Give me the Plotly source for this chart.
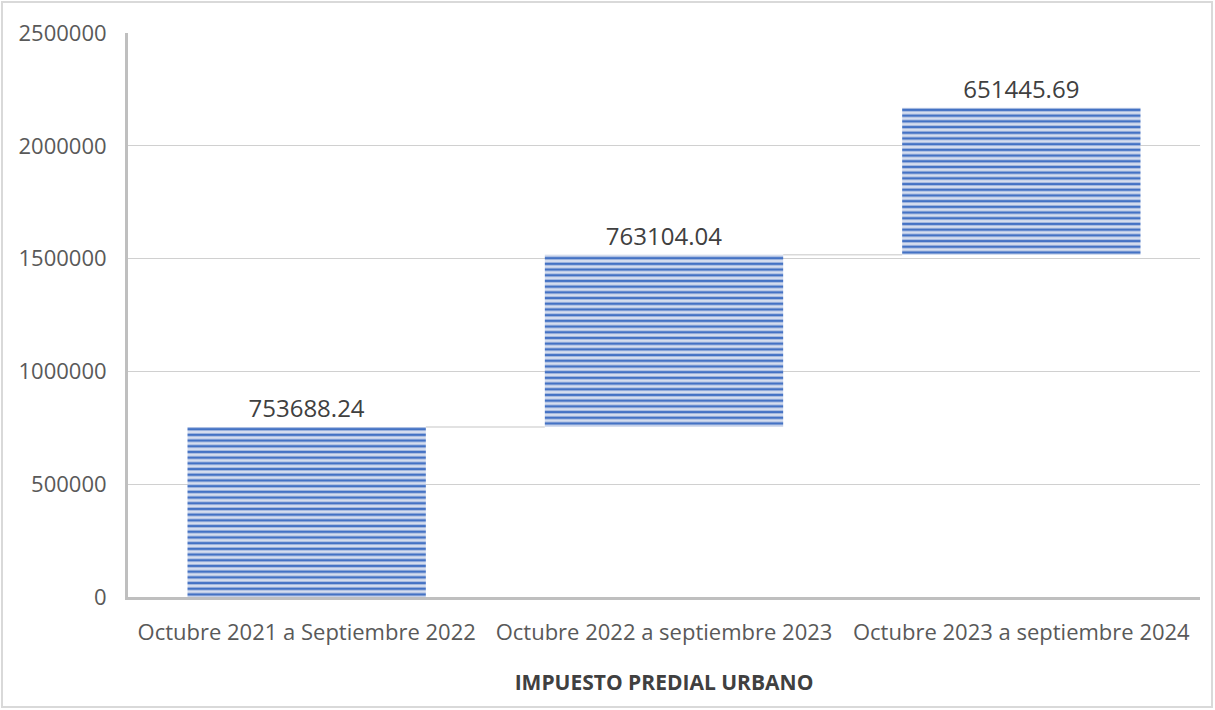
import numpy as np
import plotly.graph_objects as go

# Datos del grafico de cascada
periodos = ["Octubre 2021 a Septiembre 2022",
            "Octubre 2022 a septiembre 2023",
            "Octubre 2023 a septiembre 2024"]
montos = [753688.24, 763104.04, 651445.69]
y_ticks = [0, 500000, 1000000, 1500000, 2000000, 2500000]

acum = np.cumsum(montos)
bases = np.concatenate([[0], acum[:-1]])
pos = np.arange(len(periodos))
ancho = 0.667

fig = go.Figure()

# conectores entre barras
for i in range(len(montos) - 1):
    fig.add_trace(go.Scatter(
        x=[pos[i] + ancho / 2, pos[i + 1] - ancho / 2],
        y=[acum[i], acum[i]],
        mode="lines", line=dict(color="#d9d9d9", width=1.5),
        hoverinfo="skip", showlegend=False))

fig.add_trace(go.Bar(
    x=pos, y=montos, base=bases, width=ancho,
    marker=dict(color="#d5ddee",
                line=dict(width=0),
                pattern=dict(shape="-", fgcolor="#4472c4", bgcolor="#d5ddee",
                             size=5.7, solidity=0.45, fillmode="replace")),
    text=[f"{v:.2f}" for v in montos], textposition="outside",
    textfont=dict(size=24, color="#404040"), cliponaxis=False,
    showlegend=False))

fig.update_layout(
    width=1215, height=710,
    margin=dict(l=128, r=15, t=33, b=113, autoexpand=False),
    paper_bgcolor="white", plot_bgcolor="white",
    font=dict(family="Open Sans", size=22, color="#595959"),
    xaxis=dict(tickvals=pos, ticktext=periodos, range=[-0.5, 2.5],
               showline=True, linecolor="#bfbfbf", linewidth=3,
               showgrid=False, ticks="", ticklen=0, automargin=False,
               ticklabelstandoff=14,
               title=dict(text="<b>IMPUESTO PREDIAL URBANO</b>",
                          font=dict(size=21, color="#404040"), standoff=30)),
    yaxis=dict(range=[0, 2500000], tickvals=y_ticks,
               ticktext=[str(t) for t in y_ticks], automargin=False,
               showline=True, linecolor="#bfbfbf", linewidth=3,
               gridcolor="#d0d0d0", gridwidth=1, zeroline=False,
               ticks="", ticklabelstandoff=14),
    shapes=[dict(type="rect", xref="paper", yref="paper",
                 x0=-126 / 1072, x1=1 + 12 / 1072,
                 y0=-110 / 564, y1=1 + 31 / 564,
                 line=dict(color="#d9d9d9", width=2))],
)

# quitar el margen por defecto de la pagina
fig.write_html("out.html", config={"displayModeBar": False},
               post_script="document.body.style.margin='0px';")
